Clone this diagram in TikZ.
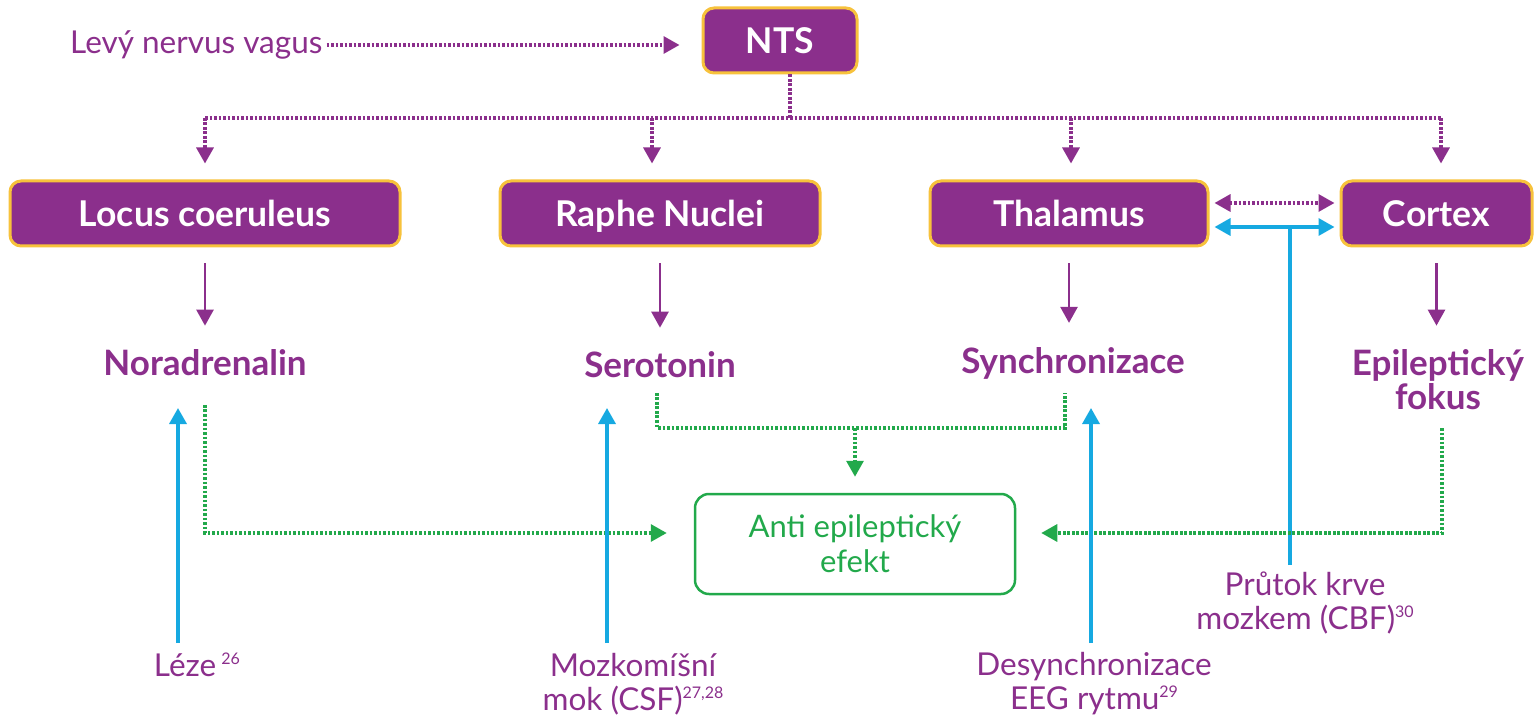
\documentclass[tikz,border=0pt]{standalone}
\usepackage{fontspec}
\setmainfont{Lato}
\usetikzlibrary{arrows.meta}
\definecolor{pur}{HTML}{8B2F8C}
\definecolor{yel}{HTML}{F7C23C}
\definecolor{grn}{HTML}{22A94B}
\definecolor{blu}{HTML}{16A9E1}
\newcommand{\supr}[1]{\raisebox{12pt}{\fontsize{16}{16}\selectfont #1}}
\begin{document}
\begin{tikzpicture}[x=1pt,y=-1pt,
  box/.style={draw=yel, line width=3pt, fill=pur, rounded corners=11pt, text=white,
    font=\fontsize{35.5}{36}\selectfont\bfseries, minimum height=65pt, inner sep=0pt,
    text height=26pt, text depth=0pt},
  lbl/.style={text=pur, font=\fontsize{35}{34}\selectfont\bfseries, align=center, inner sep=0pt},
  reftxt/.style={text=pur, font=\fontsize{31.5}{34}\selectfont, align=center, inner sep=0pt},
  effbox/.style={draw=grn, line width=2.5pt, rounded corners=14pt, text=grn,
    font=\fontsize{31}{35}\selectfont, align=center, minimum width=320pt, minimum height=100pt},
  ptip/.style={-{Triangle[width=17pt,length=16pt]}},
  dtip/.style={{Triangle[width=17pt,length=16pt]}-{Triangle[width=17pt,length=16pt]}},
  pdot/.style={draw=pur, line width=3.2pt, dash pattern=on 2.6pt off 1.9pt},
  psol/.style={draw=pur, line width=2.6pt},
  gdot/.style={draw=grn, line width=3.2pt, dash pattern=on 2.6pt off 1.9pt},
  bsol/.style={draw=blu, line width=3.4pt},
]
\useasboundingbox (0,0) rectangle (1535,719);

% boxes
\node[box, minimum width=154pt] (nts) at (780,40.5) {NTS};
\node[box, minimum width=390pt] (locus) at (205,213.5) {Locus coeruleus};
\node[box, minimum width=320pt] (raphe) at (660,213.5) {Raphe Nuclei};
\node[box, minimum width=278pt] (thal) at (1069,213.5) {Thalamus};
\node[box, minimum width=191pt] (cortex) at (1436.5,213.5) {Cortex};

% labels
\node[reftxt, anchor=west] (vagus) at (70,45) {Levý nervus vagus};
\node[lbl] (nor) at (205,363) {Noradrenalin};
\node[lbl] (ser) at (660,365) {Serotonin};
\node[lbl] (syn) at (1073,363) {Synchronizace};
\node[lbl] (epi) at (1438,380) {Epileptický\\fokus};
\node[effbox] (anti) at (855,544) {Anti epileptický\\efekt};

\node[reftxt] (lez) at (197,665) {Léze\,\supr{26}};
\node[reftxt] (csf) at (633,684) {Mozkomíšní\\mok (CSF)\supr{27,28}};
\node[reftxt] (eeg) at (1094,684) {Desynchronizace\\EEG rytmu\supr{29}};
\node[reftxt] (cbf) at (1305,603) {Průtok krve\\mozkem (CBF)\supr{30}};

% vagus -> NTS
\draw[pdot, ptip] ([xshift=4pt]vagus.east) -- ([xshift=-22pt]nts.west |- vagus.east);

% NTS branching
\coordinate (br) at (790,118);
\coordinate (d1) at (205,118);
\coordinate (d2) at (652,118);
\coordinate (d3) at (1071,118);
\coordinate (d4) at (1441,118);
\draw[pdot, line width=3.8pt] (br |- nts.south) -- (br);
\draw[pdot] (d1) -- (d4);
\draw[pdot, ptip, shorten >=16pt] (d1) -- (d1 |- locus.north);
\draw[pdot, ptip, shorten >=16pt] (d2) -- (d2 |- raphe.north);
\draw[pdot, ptip, shorten >=16pt] (d3) -- (d3 |- thal.north);
\draw[pdot, ptip, shorten >=16pt] (d4) -- (d4 |- cortex.north);

% boxes -> outputs
\draw[psol, ptip, shorten <=16pt, shorten >=24pt] (locus.south) -- (locus.south |- nor.north);
\draw[psol, ptip, shorten <=16pt, shorten >=24pt] (raphe.south) -- (raphe.south |- ser.north);
\draw[psol, ptip, shorten <=16pt, shorten >=24pt] (thal.south) -- (thal.south |- syn.north);
\draw[psol, ptip, shorten <=16pt, shorten >=24pt] (cortex.south) -- (cortex.south |- epi.north);

% thalamus <-> cortex
\coordinate (tp) at ([yshift=10.5pt]thal.east);
\coordinate (tb) at ([yshift=-13.5pt]thal.east);
\draw[pdot, dtip, shorten <=5pt, shorten >=5pt] (tp) -- (tp -| cortex.west);
\draw[bsol, dtip, shorten <=5pt, shorten >=5pt] (tb) -- (tb -| cortex.west);
\coordinate (cb) at (1290,565);
\draw[bsol] (cb) -- (cb |- tb);

% green connectors
\coordinate (g1) at (205,405);
\coordinate (g2) at (1442,428);
\draw[gdot, ptip] (g1) |- ([xshift=-27pt,yshift=11pt]anti.west);
\draw[gdot, ptip] (g2) |- ([xshift=25pt,yshift=11pt]anti.east);
\coordinate (s1) at (657,393);
\coordinate (s2) at (1065,393);
\coordinate (sm) at (855,428);
\draw[gdot] (s1) |- (sm) -| (s2);
\draw[gdot, ptip, shorten >=16pt] (sm) -- (anti.north);

% blue up arrows
\coordinate (b1) at (178,643);
\coordinate (b2) at (607,643);
\coordinate (b3) at (1091,643);
\draw[bsol, ptip] (b1) -- (178,408);
\draw[bsol, ptip] (b2) -- (607,408);
\draw[bsol, ptip] (b3) -- (1091,408);
\end{tikzpicture}
\end{document}
